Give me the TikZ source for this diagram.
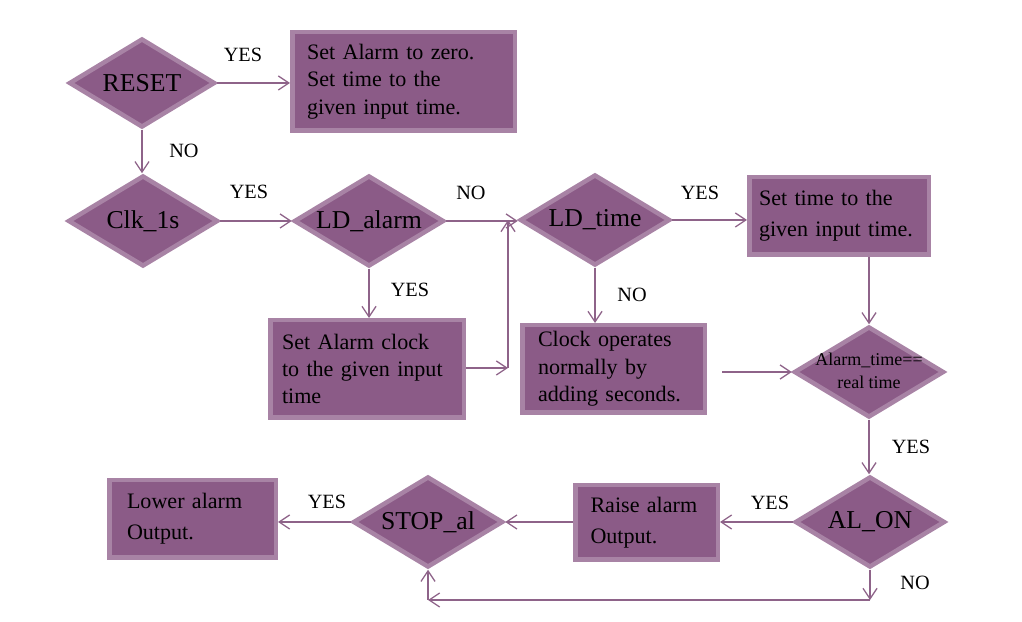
\documentclass[tikz,border=0pt]{standalone}
\usepackage{fontspec}
\setmainfont{Liberation Serif}
\usetikzlibrary{shapes.geometric}
\usetikzlibrary{arrows.meta}
\definecolor{chartFill}{HTML}{8B5B87}
\definecolor{chartEdge}{HTML}{A883A5}
\definecolor{chartLine}{HTML}{8E6389}
\newcommand{\unitPx}{0.025cm}
\newcommand{\diamondText}[1]{\makebox[0pt]{#1}}

\begin{document}
\begin{tikzpicture}[%%
  x=\unitPx,y=-\unitPx,%%
  diamondStyle/.style={diamond,draw=chartEdge,fill=chartFill,line width=4.5*\unitPx,inner sep=0pt,minimum width=150*\unitPx,minimum height=91*\unitPx,font=\fontsize{18.3}{22}\selectfont},%%
  boxStyle/.style={rectangle,draw=chartEdge,fill=chartFill,line width=4.5*\unitPx,inner sep=0pt,align=left,font=\fontsize{15.7}{19.5}\selectfont},%%
  wideBoxStyle/.style={boxStyle,font=\fontsize{15.7}{22.2}\selectfont},%%
  arrowStyle/.style={-{Straight Barb[length=7.5pt,width=10pt]},draw=chartLine,line width=0.9pt},%%
  labelStyle/.style={font=\fontsize{14.4}{17}\selectfont,inner sep=0pt}
]
\useasboundingbox (0,0) rectangle (1022,622);
%%
%% The decisions and the actions.
\node[diamondStyle,minimum width=146*\unitPx,minimum height=89*\unitPx] (reset) at (142,83) {\diamondText{RESET}};
\node[boxStyle,minimum width=222.5*\unitPx,minimum height=98.5*\unitPx,text width=193*\unitPx] (setZero) at (403.5,81.5) {Set Alarm to zero.\\Set time to the\\given input time.};
\node[diamondStyle] (clkOne) at (143,221) {\diamondText{Clk\_1s}};
\node[diamondStyle] (ldAlarm) at (369,221) {\diamondText{LD\_alarm}};
\node[diamondStyle] (ldTime) at (595,220) {\diamondText{LD\_time}};
\node[wideBoxStyle,minimum width=179.5*\unitPx,minimum height=77.5*\unitPx,text width=160*\unitPx] (setTime) at (839,216) {Set time to the\\given input time.};
\node[boxStyle,minimum width=193.5*\unitPx,minimum height=97.5*\unitPx,text width=170*\unitPx] (setAlarm) at (367,369) {Set Alarm clock\\to the given input\\time};
\node[boxStyle,minimum width=182.5*\unitPx,minimum height=87.5*\unitPx,text width=151*\unitPx] (clockOp) at (613.5,369) {Clock operates\\normally by\\adding seconds.};
\node[diamondStyle] (alarmEq) at (869,372) {\diamondText{\fontsize{12.8}{16.3}\selectfont\begin{tabular}{@{}c@{}}Alarm\_time==\\real time\end{tabular}}};
\node[diamondStyle] (alOn) at (870,522) {\diamondText{AL\_ON}};
\node[wideBoxStyle,minimum width=142.5*\unitPx,minimum height=74.5*\unitPx,text width=112*\unitPx] (raiseAl) at (646.5,522.5) {Raise alarm\\Output.};
\node[diamondStyle] (stopAl) at (428,522) {\diamondText{STOP\_al}};
\node[wideBoxStyle,minimum width=166.5*\unitPx,minimum height=77.5*\unitPx,text width=131*\unitPx] (lowerAl) at (192.5,519) {Lower alarm\\Output.};
%%
%% Points where the lines turn.
\coordinate (joinPt) at (508,368);
\coordinate (loopRight) at (870,600);
\coordinate (loopLeft) at (428,600);
%%
%% The connectors.
\draw[arrowStyle] (reset.east) -- (reset.east -| setZero.west);
\draw[arrowStyle] (reset.south) -- (reset.south |- clkOne.north);
\draw[arrowStyle] (clkOne.east) -- (clkOne.east -| ldAlarm.west);
\draw[arrowStyle] (ldAlarm.east) -- (ldAlarm.east -| ldTime.west);
\draw[arrowStyle] (ldTime.east) -- (ldTime.east -| setTime.west);
\draw[arrowStyle] (setTime.south -| alarmEq.north) -- (alarmEq.north);
\draw[arrowStyle] (ldAlarm.south) -- (ldAlarm.south |- setAlarm.north);
\draw[arrowStyle] (setAlarm.east |- joinPt) -- (joinPt);
\draw[arrowStyle] (joinPt) -- (joinPt |- ldTime.west);
\draw[arrowStyle] (ldTime.south) -- (ldTime.south |- clockOp.north);
\draw[arrowStyle,shorten <=15*\unitPx] (clockOp.east |- alarmEq.west) -- (alarmEq.west);
\draw[arrowStyle] (alarmEq.south) -- (alarmEq.south |- alOn.north);
\draw[arrowStyle] (alOn.west) -- (alOn.west -| raiseAl.east);
\draw[arrowStyle] (raiseAl.west |- stopAl.east) -- (stopAl.east);
\draw[arrowStyle] (stopAl.west) -- (stopAl.west -| lowerAl.east);
\draw[arrowStyle] (alOn.south) -- (loopRight);
\draw[arrowStyle] (loopRight) -- (loopLeft);
\draw[arrowStyle] (loopLeft) -- (stopAl.south);
%%
%% The answers.
\node[labelStyle] (yesReset) at (243,55) {YES};
\node[labelStyle] (noReset) at (184,151) {NO};
\node[labelStyle] (yesClk) at (249,192) {YES};
\node[labelStyle] (noLdAlarm) at (471,193) {NO};
\node[labelStyle] (yesLdTime) at (700,193) {YES};
\node[labelStyle] (yesLdAlarm) at (410,290) {YES};
\node[labelStyle] (noLdTime) at (632,295) {NO};
\node[labelStyle] (yesAlarmEq) at (911,447) {YES};
\node[labelStyle] (yesAlOn) at (770,503) {YES};
\node[labelStyle] (yesStopAl) at (327,502) {YES};
\node[labelStyle] (noAlOn) at (915,583) {NO};
\end{tikzpicture}
\end{document}
